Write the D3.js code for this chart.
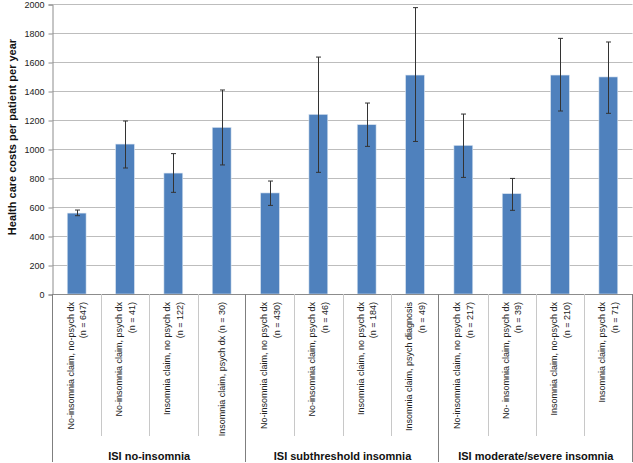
<!DOCTYPE html>
<html>
<head>
<meta charset="utf-8">
<script src="https://cdn.jsdelivr.net/npm/d3@7"></script>
<style>
  body { margin: 0; background: #fff; }
  svg { display: block; font-family: "Liberation Sans", Arial, sans-serif; }
</style>
</head>
<body>
<svg id="chart"></svg>
<script>
// category labels, one array entry per line of the rotated label
const categories = [
  ["No-insomnia claim, no-psych dx", "(n = 647)"],
  ["No-insomnia claim, psych dx", "(n = 41)"],
  ["Insomnia claim, no psych dx", "(n = 122)"],
  ["Insomnia claim, psych dx (n = 30)"],
  ["No-insomnia claim, no psych dx", "(n = 430)"],
  ["No-insomnia claim, psych dx", "(n =  46)"],
  ["Insomnia claim, no psych dx", "(n = 184)"],
  ["Insomnia claim, psych diagnosis", "(n = 49)"],
  ["No-insomnia claim, no psych dx", "(n = 217)"],
  ["No- insomnia claim, psych dx", "(n = 39)"],
  ["Insomnia claim, no-psych dx", "(n = 210)"],
  ["Insomnia claim, psych dx", "(n = 71)"]
];
const groups = ["ISI no-insomnia", "ISI subthreshold insomnia", "ISI moderate/severe insomnia"];
const perGroup = 4;

const costs = [558, 1034, 834, 1149, 697, 1239, 1168, 1510, 1025, 692, 1510, 1497];
const errLow = [540, 869, 701, 890, 611, 839, 1018, 1052, 804, 577, 1262, 1246];
const errHigh = [579, 1193, 968, 1407, 779, 1634, 1317, 1975, 1241, 797, 1763, 1738];
const yTicks = [0, 200, 400, 600, 800, 1000, 1200, 1400, 1600, 1800, 2000];

const dimensions = { width: 633, height: 463 };
const plot = { left: 52.5, right: 632.5, top: 4, bottom: 294 };

const svg = d3.select('#chart').attr('width', dimensions.width).attr('height', dimensions.height);

const x = d3.scaleBand().domain(d3.range(categories.length)).range([plot.left, plot.right]);
const y = d3.scaleLinear().domain([0, 2000]).range([plot.bottom, plot.top]);

// gridlines
svg.append('g').selectAll('line').data(yTicks).join('line')
  .attr('x1', plot.left).attr('x2', plot.right)
  .attr('y1', d => Math.round(y(d)) + 0.5).attr('y2', d => Math.round(y(d)) + 0.5)
  .attr('stroke', '#bdbdbd').attr('stroke-width', 1);

// y axis with small ticks on the left
const yAxis = svg.append('g')
  .attr('transform', `translate(${plot.left},0.5)`)
  .call(d3.axisLeft(y).tickValues(yTicks).tickSize(4).tickPadding(4).tickFormat(d3.format('d')));
yAxis.select('.domain').attr('stroke', '#8c8c8c');
yAxis.selectAll('.tick line').attr('stroke', '#8c8c8c');
yAxis.selectAll('text').attr('font-size', 9).attr('fill', '#222').attr('font-family', '"Liberation Sans", Arial, sans-serif');

// bars
const barW = x.bandwidth() * 0.39;
svg.append('g').selectAll('rect').data(costs).join('rect')
  .attr('x', (d, i) => x(i) + (x.bandwidth() - barW) / 2)
  .attr('y', d => y(d))
  .attr('width', barW)
  .attr('height', d => y(0) - y(d))
  .attr('fill', '#4f81bd')
  .attr('stroke', '#dbe5f1').attr('stroke-width', 0.6);

// error bars
const eb = svg.append('g').attr('stroke', '#333').attr('stroke-width', 1);
costs.forEach((d, i) => {
  const cx = Math.round(x(i) + x.bandwidth() / 2) + 0.5;
  eb.append('line').attr('x1', cx).attr('x2', cx).attr('y1', y(errLow[i])).attr('y2', y(errHigh[i]));
  [errLow[i], errHigh[i]].forEach(v => {
    eb.append('line').attr('x1', cx - 2.5).attr('x2', cx + 2.5).attr('y1', y(v)).attr('y2', y(v));
  });
});

// x axis line
svg.append('line')
  .attr('x1', plot.left).attr('x2', plot.right)
  .attr('y1', plot.bottom + 0.5).attr('y2', plot.bottom + 0.5)
  .attr('stroke', '#8c8c8c');

// category separators
svg.append('g').selectAll('line').data(d3.range(1, categories.length).filter(i => i % perGroup)).join('line')
  .attr('x1', i => Math.round(x(i)) + 0.5).attr('x2', i => Math.round(x(i)) + 0.5)
  .attr('y1', plot.bottom).attr('y2', 436)
  .attr('stroke', '#c8c8c8');

// group separators
svg.append('g').selectAll('line').data(d3.range(0, categories.length + 1, perGroup)).join('line')
  .attr('x1', i => Math.round(i < categories.length ? x(i) : plot.right) - 0.5)
  .attr('x2', i => Math.round(i < categories.length ? x(i) : plot.right) - 0.5)
  .attr('y1', plot.bottom).attr('y2', 462)
  .attr('stroke', '#7f7f7f');

// rotated category labels, right-aligned at the top
const lineGap = 12.5;
const labels = svg.append('g').selectAll('text').data(categories).join('text')
  .attr('transform', (d, i) => `translate(${x(i) + x.bandwidth() / 2},302) rotate(-90)`)
  .attr('text-anchor', 'end')
  .attr('font-size', 9)
  .attr('fill', '#222');
labels.each(function (lines) {
  const t = d3.select(this);
  lines.forEach((s, k) => {
    t.append('tspan')
      .attr('x', 0)
      .attr('y', (k - (lines.length - 1) / 2) * lineGap + 3.3)
      .text(s);
  });
});

// group labels
svg.append('g').selectAll('text').data(groups).join('text')
  .attr('x', (d, g) => (x(g * perGroup) + (g === groups.length - 1 ? plot.right : x((g + 1) * perGroup))) / 2)
  .attr('y', 460)
  .attr('text-anchor', 'middle')
  .attr('font-size', 11).attr('font-weight', 'bold').attr('fill', '#111')
  .text(d => d);

// y axis title
svg.append('text')
  .attr('transform', 'translate(16,137) rotate(-90)')
  .attr('text-anchor', 'middle')
  .attr('font-size', 11).attr('font-weight', 'bold').attr('fill', '#111')
  .text('Health care costs per patient per year');
</script>
</body>
</html>
